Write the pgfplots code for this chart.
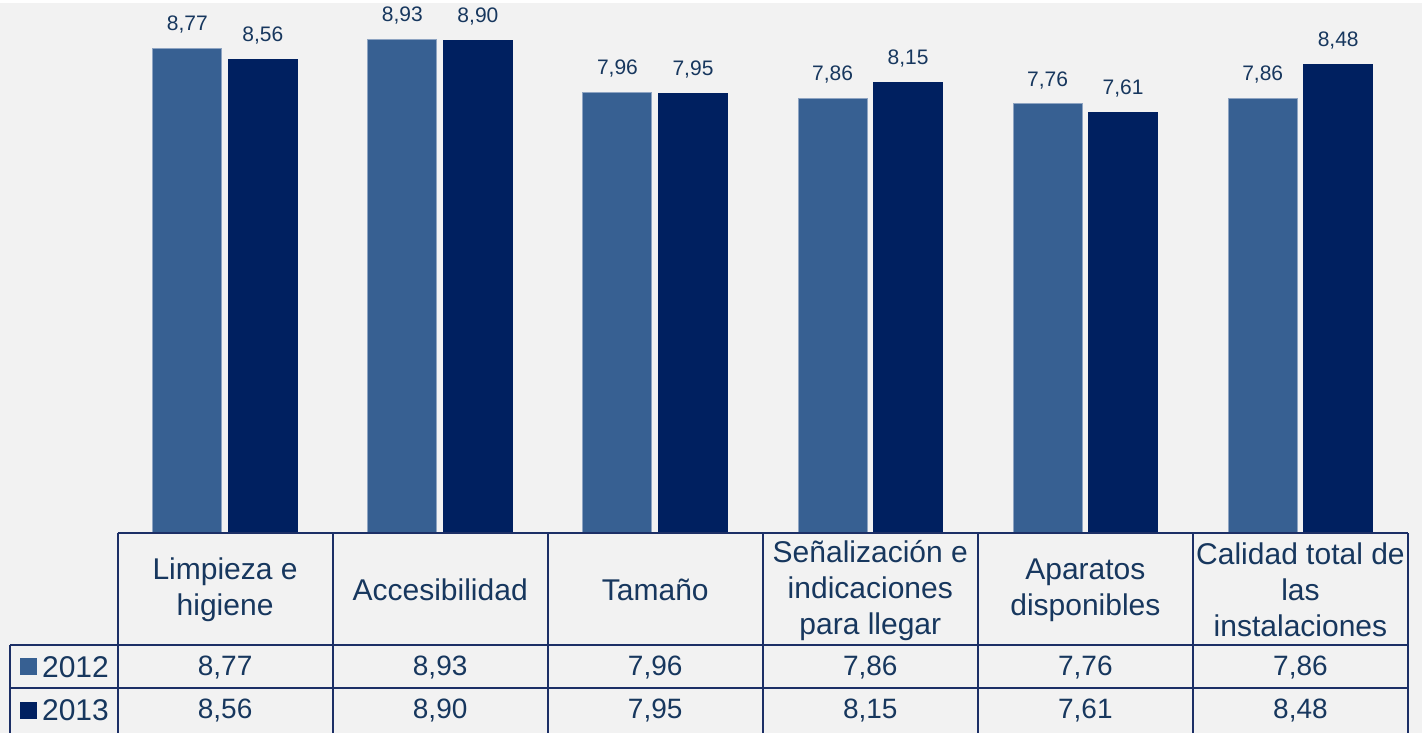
\documentclass[border=0pt]{standalone}
\usepackage{fontspec}
\setmainfont{Liberation Sans}
\usepackage{pgfplots}
\usepackage{pgfplotstable}
\pgfplotsset{compat=1.18}
\usetikzlibrary{backgrounds}
\definecolor{bgc}{HTML}{F2F2F2}
\definecolor{c12}{HTML}{376092}
\definecolor{c12line}{HTML}{8EA4C2}
\definecolor{c13}{HTML}{002060}
\definecolor{txt}{HTML}{17375E}
\definecolor{tline}{HTML}{1C2F66}

% x = column index, a = 2012, b = 2013
\pgfplotstableread{
x a b
0 8.77 8.56
1 8.93 8.90
2 7.96 7.95
3 7.86 8.15
4 7.76 7.61
5 7.86 8.48
}\scores

\begin{document}
\begin{tikzpicture}
\begin{axis}[
  x=107.5pt, y=27.65pt,
  xmin=-1, xmax=5.5, ymin=0, ymax=9.584,
  clip=false,
  axis line style={draw=none},
  ytick=\empty,
  xtick={0,...,5},
  xticklabels={{Limpieza e\\higiene},{Accesibilidad},{Tamaño},
    {Señalización e\\indicaciones\\para llegar},{Aparatos\\disponibles},
    {Calidad total de\\las\\instalaciones}},
  major tick length=0pt,
  xticklabel style={anchor=center, yshift=-28.5pt, align=center,
    font=\fontsize{15}{18}\selectfont, text=txt},
  /pgf/number format/.cd, use comma, fixed, fixed zerofill, precision=2,
    assume math mode=true,
]
% bars
\addplot[ybar, bar width=34.5pt, bar shift=-18.875pt, fill=c12, draw=c12line,
  line width=0.5pt, nodes near coords,
  every node near coord/.append style={font=\fontsize{10.5}{12}\selectfont,
    text=txt, yshift=4pt, xshift=-18.875pt}]
  table[x=x, y=a]{\scores};
\addplot[ybar, bar width=34.5pt, bar shift=18.875pt, fill=c13, draw=c13,
  line width=0.5pt, nodes near coords,
  every node near coord/.append style={font=\fontsize{10.5}{12}\selectfont,
    text=txt, yshift=4pt, xshift=18.875pt}]
  table[x=x, y=b]{\scores};

% data table rows
\addplot[draw=none, mark=none, nodes near coords, point meta=explicit,
  every node near coord/.append style={anchor=center,
    font=\fontsize{14}{16}\selectfont, text=txt}]
  table[x=x, y expr=-2.42, meta=a]{\scores};
\addplot[draw=none, mark=none, nodes near coords, point meta=explicit,
  every node near coord/.append style={anchor=center,
    font=\fontsize{14}{16}\selectfont, text=txt}]
  table[x=x, y expr=-3.20, meta=b]{\scores};

% grid of the data table
\draw[tline, line width=1pt] (axis cs:-0.5,0) -- (axis cs:5.5,0);
\draw[tline, line width=1pt] (axis cs:-1,-2.025) -- (axis cs:5.5,-2.025);
\draw[tline, line width=1pt] (axis cs:-1,-2.80) -- (axis cs:5.5,-2.80);
\draw[tline, line width=1pt] (axis cs:-1,-2.025) -- (axis cs:-1,-3.62);
\draw[tline, line width=1pt] (axis cs:-0.5,0) -- (axis cs:-0.5,-3.62);
\draw[tline, line width=1pt] (axis cs:0.5,0) -- (axis cs:0.5,-3.62);
\draw[tline, line width=1pt] (axis cs:1.5,0) -- (axis cs:1.5,-3.62);
\draw[tline, line width=1pt] (axis cs:2.5,0) -- (axis cs:2.5,-3.62);
\draw[tline, line width=1pt] (axis cs:3.5,0) -- (axis cs:3.5,-3.62);
\draw[tline, line width=1pt] (axis cs:4.5,0) -- (axis cs:4.5,-3.62);
\draw[tline, line width=1pt] (axis cs:5.5,0) -- (axis cs:5.5,-3.62);

% legend keys
\node[anchor=west, inner sep=0pt, text=txt, font=\fontsize{15}{18}\selectfont]
  at (axis cs:-0.955,-2.42) {\textcolor{c12}{\raisebox{1pt}{\rule{8.5pt}{8.5pt}}}\,2012};
\node[anchor=west, inner sep=0pt, text=txt, font=\fontsize{15}{18}\selectfont]
  at (axis cs:-0.955,-3.20) {\textcolor{c13}{\raisebox{1pt}{\rule{8.5pt}{8.5pt}}}\,2013};

\coordinate (bl) at (axis cs:-1.0465,-3.6166);
\coordinate (tr) at (axis cs:5.5651,9.584);
\end{axis}
\begin{scope}[on background layer]
  \fill[bgc] (bl) rectangle (tr);
\end{scope}
\end{tikzpicture}
\end{document}
